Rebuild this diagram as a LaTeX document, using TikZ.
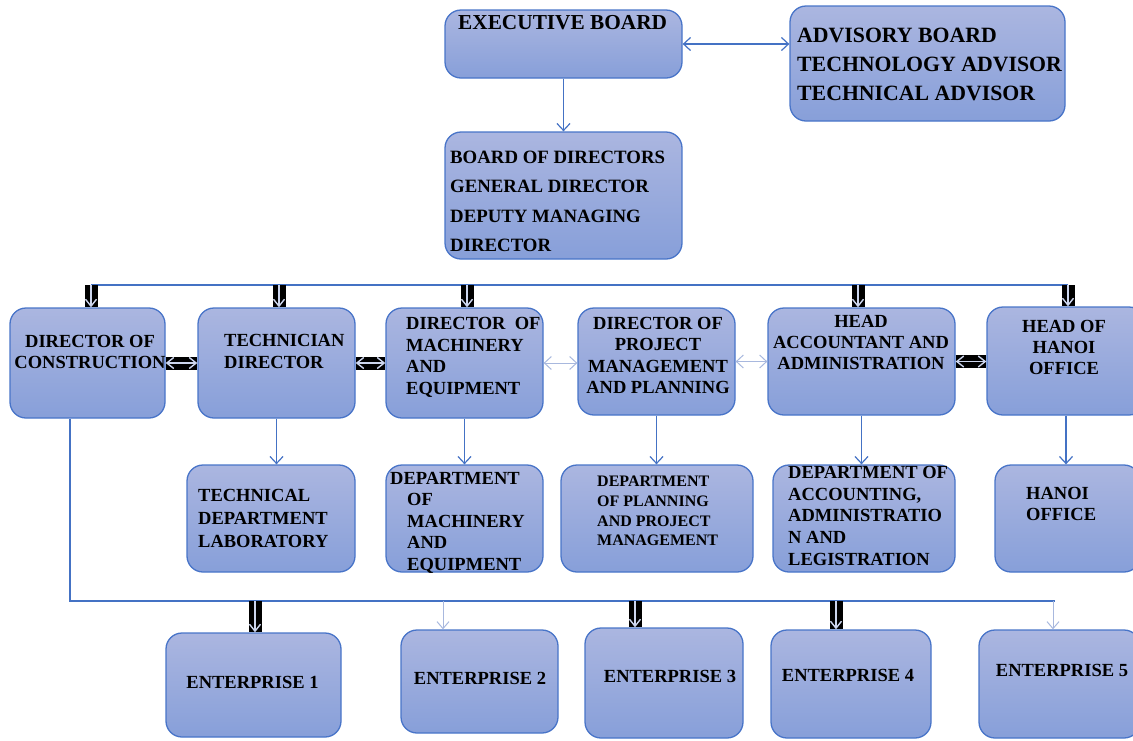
\documentclass[tikz,border=0pt]{standalone}
\usepackage{fontspec}
\setmainfont{Liberation Serif}
\usetikzlibrary{arrows.meta}

\definecolor{boxtop}{RGB}{171,182,224}
\definecolor{boxbottom}{RGB}{135,159,217}
\definecolor{boxline}{RGB}{72,116,200}
\definecolor{linkblue}{RGB}{68,114,196}
\definecolor{linklight}{RGB}{168,184,222}
\definecolor{barlight}{RGB}{205,214,238}

\tikzset{
    orgbox/.style={draw=boxline, line width=1.3pt, rounded corners=16pt,
        top color=boxtop, bottom color=boxbottom, inner sep=0pt},
    boxsize/.style 2 args={minimum width=#1pt, minimum height=#2pt},
    orgtext/.style={inner sep=0pt, align=left,
        font=\bfseries\fontsize{18.5}{21.5}\selectfont},
    link/.style={draw=linkblue, line width=1.2pt},
    linkarrow/.style={link, -{Straight Barb[length=7pt,width=13pt]}},
    linkboth/.style={link, {Straight Barb[length=7pt,width=13pt]}-{Straight Barb[length=7pt,width=13pt]}},
    lightarrow/.style={draw=linklight, line width=1pt, -{Straight Barb[length=7pt,width=12pt]}},
    lightboth/.style={draw=linklight, line width=1pt, {Straight Barb[length=7pt,width=13pt]}-{Straight Barb[length=7pt,width=13pt]}},
    blackbar/.style={draw=black, line width=13pt},
    bararrow/.style={draw=barlight, line width=1.4pt, -{Straight Barb[length=7pt,width=11pt]}},
    barboth/.style={draw=barlight, line width=1.4pt, {Straight Barb[length=7pt,width=11pt]}-{Straight Barb[length=7pt,width=11pt]}}
}

\begin{document}
\begin{tikzpicture}[x=1pt, y=-1pt]
    \useasboundingbox (0,0) rectangle (1133,740);

    % top of the chart
    \node [orgbox, boxsize={237}{68}] (exec) at (563.5,44) {};
    \node [orgbox, boxsize={275}{115}] (adv) at (927.5,63.5) {};
    \node [orgbox, boxsize={237}{127}] (board) at (563.5,195.5) {};

    \node [orgtext, anchor=north west, font=\bfseries\fontsize{21.3}{24}\selectfont] (exec-t) at (458,15) {EXECUTIVE BOARD};
    \node [orgtext, anchor=north west, font=\bfseries\fontsize{21.8}{29}\selectfont] (adv-t) at (797,28)
        {ADVISORY BOARD\\TECHNOLOGY ADVISOR\\TECHNICAL ADVISOR};
    \node [orgtext, anchor=north west, font=\bfseries\fontsize{18.8}{29.3}\selectfont] (board-t) at (450,151)
        {BOARD OF DIRECTORS\\GENERAL DIRECTOR\\DEPUTY MANAGING\\DIRECTOR};

    % directors
    \node [orgbox, boxsize={155}{110}] (constr) at (87.5,363) {};
    \node [orgbox, boxsize={157}{110}] (tech) at (276.5,363) {};
    \node [orgbox, boxsize={157}{110}] (mach) at (464.5,363) {};
    \node [orgbox, boxsize={157}{107}] (proj) at (656.5,361.5) {};
    \node [orgbox, boxsize={187}{107}] (acc) at (861.5,361.5) {};
    \node [orgbox, boxsize={158}{108}] (hhead) at (1066,361) {};

    \node [orgtext, anchor=north, align=center, font=\bfseries\fontsize{18.5}{21}\selectfont] (constr-t) at (90,335)
        {DIRECTOR OF\\CONSTRUCTION};
    \node [orgtext, anchor=north west, font=\bfseries\fontsize{18.5}{22}\selectfont] (tech-t) at (224,334)
        {TECHNICIAN\\DIRECTOR};
    \node [orgtext, anchor=north west, font=\bfseries\fontsize{18.5}{21.7}\selectfont] (mach-t) at (406,317)
        {DIRECTOR\ \ OF\\MACHINERY\\AND\\EQUIPMENT};
    \node [orgtext, anchor=north, align=center, font=\bfseries\fontsize{18.5}{21.3}\selectfont] (proj-t) at (658,317)
        {DIRECTOR OF\\PROJECT\\MANAGEMENT\\AND PLANNING};
    \node [orgtext, anchor=north, align=center, font=\bfseries\fontsize{18.5}{21}\selectfont] (acc-t) at (861,315)
        {HEAD\\ACCOUNTANT AND\\ADMINISTRATION};
    \node [orgtext, anchor=north, align=center, font=\bfseries\fontsize{18.5}{21}\selectfont] (hhead-t) at (1064,320)
        {HEAD OF\\HANOI\\OFFICE};

    % departments
    \node [orgbox, boxsize={168}{107}] (lab) at (271,518.5) {};
    \node [orgbox, boxsize={157}{107}] (dmach) at (464.5,518.5) {};
    \node [orgbox, boxsize={192}{107}] (dplan) at (657,518.5) {};
    \node [orgbox, boxsize={182}{107}] (dacct) at (864,518.5) {};
    \node [orgbox, boxsize={145}{107}] (hoff) at (1067.5,518.5) {};

    \node [orgtext, anchor=north west, font=\bfseries\fontsize{18.5}{23}\selectfont] (lab-t) at (198,489)
        {TECHNICAL\\DEPARTMENT\\LABORATORY};
    \node [orgtext, anchor=north west] (dmach-t) at (407,472)
        {\hspace*{-17pt}DEPARTMENT\\OF\\MACHINERY\\AND\\EQUIPMENT};
    \node [orgtext, anchor=north west, font=\bfseries\fontsize{16}{19.7}\selectfont] (dplan-t) at (597,476)
        {DEPARTMENT\\OF PLANNING\\AND PROJECT\\MANAGEMENT};
    \node [orgtext, anchor=north west, font=\bfseries\fontsize{18.5}{21.7}\selectfont] (dacct-t) at (788,466)
        {DEPARTMENT OF\\ACCOUNTING,\\ADMINISTRATIO\\N AND\\LEGISTRATION};
    \node [orgtext, anchor=north west, font=\bfseries\fontsize{18.5}{21}\selectfont] (hoff-t) at (1026,487)
        {HANOI\\OFFICE};

    % enterprises
    \node [orgbox, boxsize={175}{104}] (ent1) at (253.5,685) {};
    \node [orgbox, boxsize={157}{103}] (ent2) at (479.5,681.5) {};
    \node [orgbox, boxsize={158}{110}] (ent3) at (664,683) {};
    \node [orgbox, boxsize={160}{108}] (ent4) at (851,684) {};
    \node [orgbox, boxsize={161}{108}] (ent5) at (1059.5,684) {};

    \node [orgtext, anchor=north] (ent1-t) at (252.5,676) {ENTERPRISE 1};
    \node [orgtext, anchor=north] (ent2-t) at (480,672) {ENTERPRISE 2};
    \node [orgtext, anchor=north] (ent3-t) at (670,670) {ENTERPRISE 3};
    \node [orgtext, anchor=north] (ent4-t) at (848,669) {ENTERPRISE 4};
    \node [orgtext, anchor=north] (ent5-t) at (1062,664) {ENTERPRISE 5};

    % links of the top
    \draw [linkarrow] (exec.south) -- (board.north);
    \draw [linkboth] (exec.east) -- (exec.east -| adv.west);

    % bus to the directors
    \coordinate (t1) at (91,285);
    \coordinate (t2) at (279,285);
    \coordinate (t3) at (467,285);
    \coordinate (t4) at (858,285);
    \coordinate (t5) at (1068,285);
    \draw [link] (t1) -- (t5);
    \foreach \tap/\target in {t1/constr, t2/tech, t3/mach, t4/acc, t5/hhead} {
        \draw [blackbar] (\tap) -- (\tap |- \target.north);
        \draw [bararrow] (\tap) -- (\tap |- \target.north);
    }

    % links between the directors
    \draw [blackbar] (constr.east) -- (tech.west);
    \draw [barboth] (constr.east) -- (tech.west);
    \draw [blackbar] (tech.east) -- (mach.west);
    \draw [barboth] (tech.east) -- (mach.west);
    \draw [lightboth] (mach.east) -- (mach.east -| proj.west);
    \draw [lightboth] (proj.east) -- (acc.west);
    \draw [blackbar] (acc.east) -- (acc.east -| hhead.west);
    \draw [barboth] (acc.east) -- (acc.east -| hhead.west);

    % directors to departments
    \draw [linkarrow] (tech.south) -- (tech.south |- lab.north);
    \draw [linkarrow] (mach.south) -- (dmach.north);
    \draw [linkarrow] (proj.south) -- (proj.south |- dplan.north);
    \draw [linkarrow] (acc.south) -- (acc.south |- dacct.north);
    \draw [linkarrow] (hhead.south) -- (hhead.south |- hoff.north);

    % construction to enterprises
    \coordinate (bend) at (70,601);
    \coordinate (b1) at (255,601);
    \coordinate (b2) at (443,601);
    \coordinate (b3) at (635,601);
    \coordinate (b4) at (836,601);
    \coordinate (b5) at (1055,601);
    \draw [link] (constr.south -| bend) -- (bend) -- (b5);
    \foreach \tap/\target in {b1/ent1, b3/ent3, b4/ent4} {
        \draw [blackbar] (\tap) -- (\tap |- \target.north);
        \draw [bararrow] (\tap) -- (\tap |- \target.north);
    }
    \draw [lightarrow] (b2) -- (b2 |- ent2.north);
    \draw [lightarrow] ([xshift=-2pt]b5) -- ([xshift=-2pt]b5 |- ent5.north);
\end{tikzpicture}
\end{document}
